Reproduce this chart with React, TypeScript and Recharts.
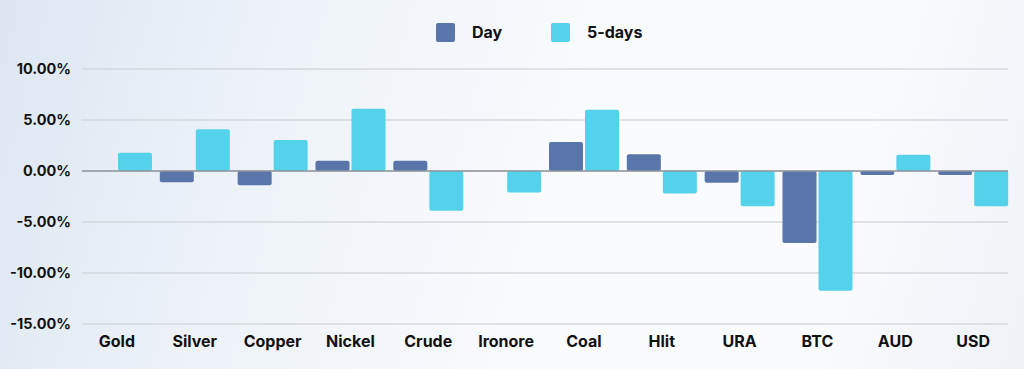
import React from "react";
import {
  BarChart,
  Bar,
  XAxis,
  YAxis,
  CartesianGrid,
  ReferenceLine,
  Legend,
} from "recharts";

const CATEGORIES = [
  "Gold",
  "Silver",
  "Copper",
  "Nickel",
  "Crude",
  "Ironore",
  "Coal",
  "Hlit",
  "URA",
  "BTC",
  "AUD",
  "USD",
];
const DAY = [0, -1.1, -1.4, 1.0, 1.0, 0, 2.85, 1.65, -1.15, -7.05, -0.4, -0.4];
const FIVE_DAYS = [1.8, 4.1, 3.05, 6.1, -3.9, -2.1, 6.0, -2.2, -3.45, -11.75, 1.6, -3.45];
const Y_TICKS = [-15, -10, -5, 0, 5, 10];

const DAY_COLOR = "#5a75aa";
const FIVE_COLOR = "#55d2eb";
const FONT = "Inter, 'Open Sans', sans-serif";

const data = CATEGORIES.map((name, i) => ({
  name,
  day: DAY[i],
  fiveDays: FIVE_DAYS[i],
}));

function LegendContent() {
  const items = [
    { label: "Day", color: DAY_COLOR },
    { label: "5-days", color: FIVE_COLOR },
  ];
  return (
    <div style={{ display: "flex", paddingLeft: 436 }}>
      {items.map((it) => (
        <div
          key={it.label}
          style={{ display: "flex", alignItems: "center", width: 115 }}
        >
          <span
            style={{
              width: 19,
              height: 19,
              borderRadius: 2,
              background: it.color,
              display: "inline-block",
              marginRight: 17,
            }}
          />
          <span
            style={{
              fontFamily: FONT,
              fontWeight: 700,
              fontSize: 16,
              color: "#111",
            }}
          >
            {it.label}
          </span>
        </div>
      ))}
    </div>
  );
}

export default function App() {
  return (
    <div
      style={{
        position: "absolute",
        top: 0,
        left: 0,
        width: 1024,
        height: 369,
        background:
          "linear-gradient(105deg, #dce7f2 0%, #edf2f8 25%, #f9fbfd 55%, #fafbfd 80%, #eef2f7 100%)",
      }}
    >
      <BarChart
        width={1024}
        height={369}
        data={data}
        margin={{ top: 69, right: 16, bottom: 15, left: 0 }}
        barGap={2}
      >
        <CartesianGrid
          vertical={false}
          stroke="#d4d8dc"
          strokeWidth={1.5}
        />
        <XAxis
          dataKey="name"
          axisLine={false}
          tickLine={false}
          height={30}
          interval={0}
          padding={{ left: -4, right: -4 }}
          tick={{ fontFamily: FONT, fontWeight: 700, fontSize: 16, fill: "#111" }}
          tickMargin={6}
        />
        <YAxis
          width={82}
          domain={[-15, 10]}
          ticks={Y_TICKS}
          axisLine={false}
          tickLine={false}
          tickFormatter={(v: number) => `${v.toFixed(2)}%`}
          tick={{ fontFamily: FONT, fontWeight: 700, fontSize: 14.5, fill: "#111" }}
          tickMargin={5}
        />
        <ReferenceLine y={0} stroke="#8f959b" strokeWidth={1.5} />
        <Legend
          verticalAlign="middle"
          align="center"
          layout="horizontal"
          content={<LegendContent />}
          wrapperStyle={{ top: 22, left: 0, width: 1024 }}
        />
        <Bar
          dataKey="day"
          name="Day"
          fill={DAY_COLOR}
          barSize={34}
          radius={2}
          isAnimationActive={false}
        />
        <Bar
          dataKey="fiveDays"
          name="5-days"
          fill={FIVE_COLOR}
          barSize={34}
          radius={2}
          isAnimationActive={false}
        />
      </BarChart>
    </div>
  );
}
